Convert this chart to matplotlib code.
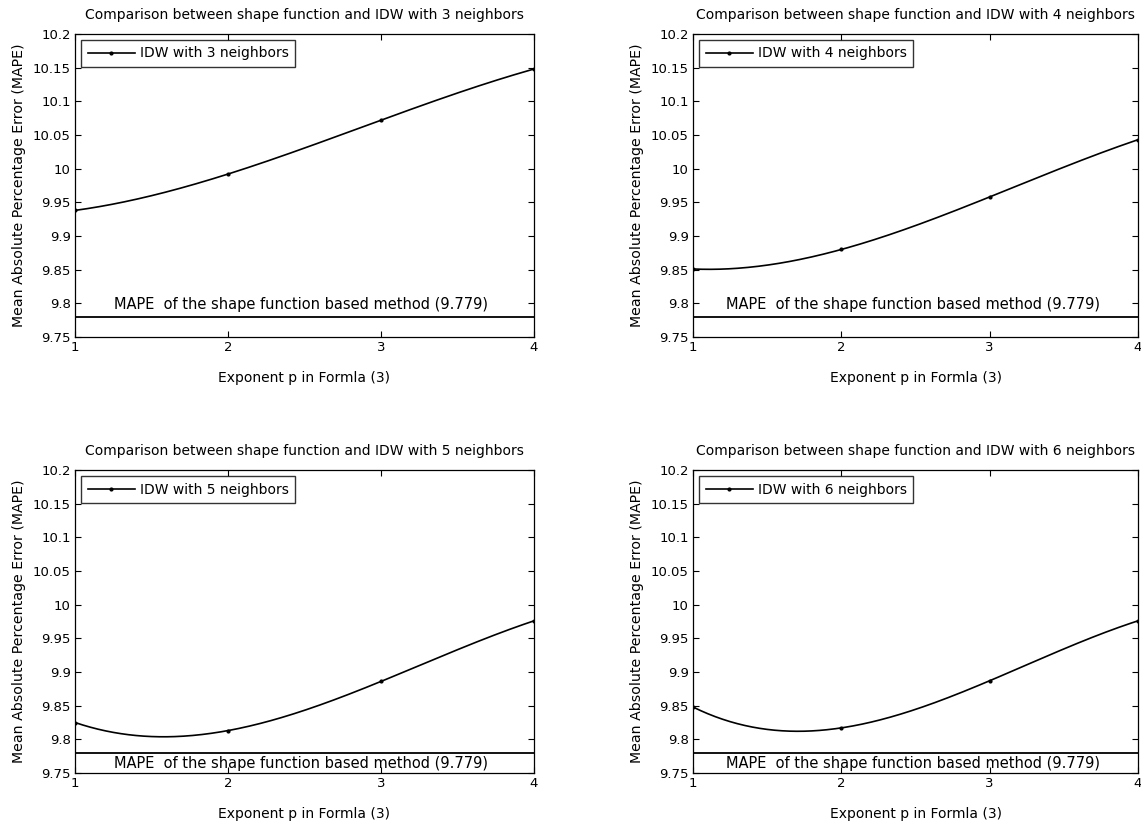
import numpy as np
import matplotlib
matplotlib.use("Agg")
import matplotlib.pyplot as plt

exponent_p = [1, 2, 3, 4]
neighbors = [3, 4, 5, 6]
mape_idw = {
    3: [9.938, 9.992, 10.072, 10.148],
    4: [9.851, 9.880, 9.958, 10.043],
    5: [9.825, 9.813, 9.886, 9.976],
    6: [9.848, 9.817, 9.887, 9.976],
}
mape_shape = 9.779
y_ticks = [9.75, 9.8, 9.85, 9.9, 9.95, 10, 10.05, 10.1, 10.15, 10.2]

plt.rcParams["font.family"] = ["DejaVu Sans"]

fig = plt.figure(figsize=(11.41, 8.30), dpi=100)

boxes = [(75, 34, 534, 337), (693, 34, 1138, 337),
         (75, 470, 534, 773), (693, 470, 1138, 773)]
W, H = 1141, 830

for k, n in enumerate(neighbors):
    l, t, r, b = boxes[k]
    ax = fig.add_axes([l / W, 1 - b / H, (r - l) / W, (b - t) / H])
    vals = mape_idw[n]

    # smooth spline through the 4 points (a cubic, like MATLAB's spline)
    coef = np.polyfit(exponent_p, vals, 3)
    xs = np.linspace(exponent_p[0], exponent_p[-1], 301)
    ax.plot(xs, np.polyval(coef, xs), color="black", lw=1.2, marker=".",
            markersize=4, markevery=[0, 100, 200, 300],
            label="IDW with %d neighbors" % n)

    ax.axhline(mape_shape, color="black", lw=1.3)
    ty = 9.798 if k < 2 else 9.764
    ax.text(2.48, ty, "MAPE  of the shape function based method (%.3f)" % mape_shape,
            ha="center", va="center", fontsize=10.5)

    ax.set_xlim(1, 4)
    ax.set_ylim(9.75, 10.2)
    ax.set_xticks(exponent_p)
    ax.set_xticklabels([str(v) for v in exponent_p])
    ax.set_yticks(y_ticks)
    ax.set_yticklabels(["%g" % v for v in y_ticks])
    ax.tick_params(direction="in", top=True, right=True, labelsize=9.5,
                   length=4, width=0.8, pad=3)
    for s in ax.spines.values():
        s.set_linewidth(0.9)

    ax.set_title("Comparison between shape function and IDW with %d neighbors" % n,
                 fontsize=10, pad=11)
    ax.set_xlabel("Exponent p in Formla (3)", fontsize=10, labelpad=12)
    ax.set_ylabel("Mean Absolute Percentage Error (MAPE)", fontsize=10.2, labelpad=5)

    leg = ax.legend(loc="upper left", numpoints=1, handlelength=3.4,
                    fontsize=10, fancybox=False, borderaxespad=0.45,
                    borderpad=0.45, handletextpad=0.35)
    leg.get_frame().set_edgecolor("black")
    leg.get_frame().set_linewidth(1.0)

fig.savefig("out.png", dpi=100)
